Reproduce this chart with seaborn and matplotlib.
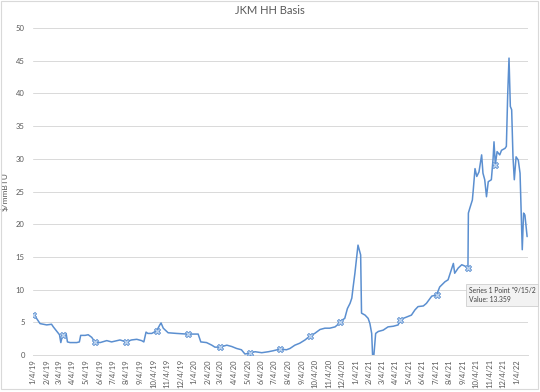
import pandas as pd
import numpy as np
import matplotlib
matplotlib.use('Agg')
import matplotlib.pyplot as plt
from matplotlib.patches import Rectangle
import seaborn as sns

# ---- data ----
dates = [
    '2019-01-04', '2019-01-09', '2019-01-20', '2019-01-27', '2019-02-04', '2019-02-15',
    '2019-02-19', '2019-02-27', '2019-03-05', '2019-03-08', '2019-03-12', '2019-03-20',
    '2019-03-23', '2019-03-29', '2019-04-13', '2019-04-19', '2019-04-22', '2019-05-02',
    '2019-05-09', '2019-05-17', '2019-05-24', '2019-06-05', '2019-06-20', '2019-07-01',
    '2019-07-20', '2019-08-03', '2019-08-15', '2019-08-27', '2019-09-07', '2019-09-12',
    '2019-09-17', '2019-09-21', '2019-09-30', '2019-10-11', '2019-10-19', '2019-10-21',
    '2019-10-26', '2019-11-06', '2019-11-25', '2019-12-18', '2019-12-22', '2020-01-13',
    '2020-01-19', '2020-02-01', '2020-02-13', '2020-02-20', '2020-03-02', '2020-03-18',
    '2020-03-29', '2020-04-09', '2020-04-20', '2020-04-28', '2020-05-09', '2020-05-21',
    '2020-06-05', '2020-06-20', '2020-07-01', '2020-07-16', '2020-07-31', '2020-08-08',
    '2020-08-19', '2020-08-30', '2020-09-11', '2020-09-22', '2020-10-03', '2020-10-15',
    '2020-10-26', '2020-11-06', '2020-11-18', '2020-11-27', '2020-11-29', '2020-12-10',
    '2020-12-16', '2020-12-22', '2020-12-26', '2020-12-29', '2021-01-02', '2021-01-09',
    '2021-01-15', '2021-01-17', '2021-01-25', '2021-02-01', '2021-02-05', '2021-02-09',
    '2021-02-11', '2021-02-14', '2021-02-18', '2021-02-24', '2021-03-07', '2021-03-18',
    '2021-03-30', '2021-04-10', '2021-04-14', '2021-04-29', '2021-05-10', '2021-05-18',
    '2021-05-25', '2021-06-06', '2021-06-13', '2021-06-25', '2021-07-06', '2021-07-13',
    '2021-07-25', '2021-08-01', '2021-08-13', '2021-08-16', '2021-08-24', '2021-09-01',
    '2021-09-08', '2021-09-15', '2021-09-16', '2021-09-19', '2021-09-25', '2021-09-27',
    '2021-10-01', '2021-10-05', '2021-10-10', '2021-10-16', '2021-10-19', '2021-10-23',
    '2021-10-27', '2021-10-31', '2021-11-07', '2021-11-11', '2021-11-13', '2021-11-16',
    '2021-11-20', '2021-11-26', '2021-11-30', '2021-12-08', '2021-12-11', '2021-12-14',
    '2021-12-17', '2021-12-20', '2021-12-23', '2021-12-26', '2021-12-29', '2022-01-02',
    '2022-01-07', '2022-01-11', '2022-01-16', '2022-01-19', '2022-01-22', '2022-01-27',
]
basis = [
    6.1, 5.9, 4.8, 4.7, 4.6, 4.7,
    4.3, 3.6, 3.1, 1.9, 3.1, 3.3,
    2.0, 1.9, 1.9, 2.0, 3.0, 3.0,
    3.1, 2.7, 2.0, 1.9, 2.2, 2.0,
    2.3, 2.0, 2.3, 2.4, 2.2, 2.0,
    3.5, 3.3, 3.3, 3.7, 4.7, 4.9,
    4.1, 3.4, 3.3, 3.2, 3.2, 3.2,
    2.0, 1.9, 1.5, 1.2, 1.2, 1.5,
    1.3, 1.0, 0.8, 0.15, 0.3, 0.5,
    0.35, 0.5, 0.65, 0.9, 0.8, 1.0,
    1.5, 1.8, 2.3, 2.9, 3.3, 3.9,
    4.1, 4.1, 4.3, 4.8, 5.1, 5.6,
    7.1, 7.9, 8.7, 10.4, 12.5, 16.8,
    15.3, 6.4, 6.1, 5.6, 4.8, 3.3,
    0.0, 0.0, 3.3, 3.6, 3.8, 4.3,
    4.4, 4.6, 5.4, 5.8, 6.1, 6.9,
    7.4, 7.5, 7.9, 9.0, 9.2, 10.4,
    11.2, 11.5, 14.0, 12.5, 13.3, 13.8,
    13.6, 13.359, 21.7, 22.4, 23.7, 25.2,
    28.5, 27.3, 28.0, 30.6, 27.8, 26.8,
    24.2, 26.5, 26.8, 30.1, 32.6, 29.1,
    31.1, 30.6, 31.3, 31.6, 31.9, 39.8,
    45.4, 38.0, 37.5, 30.3, 26.8, 30.3,
    29.8, 27.8, 16.1, 21.7, 21.4, 18.1,
]
marker_dates = ['2019-01-04', '2019-03-12', '2019-05-24', '2019-08-03', '2019-10-11',
                '2019-12-22', '2020-03-02', '2020-05-09', '2020-07-16', '2020-09-22',
                '2020-11-29', '2021-04-14', '2021-07-06', '2021-09-15', '2021-11-16']

tick_dates = pd.date_range('2019-01-01', '2022-01-01', freq='MS') + pd.Timedelta(days=3)
tick_labels = [f'{d.month}/{d.day}/{d.year % 100}' for d in tick_dates]

df = pd.DataFrame({'date': pd.to_datetime(dates), 'basis': basis})
marks = df[df['date'].isin(pd.to_datetime(marker_dates))]

sns.set_style('white')
plt.rcParams['font.family'] = ['Lato', 'DejaVu Sans']

blue = '#5b8fd0'
grey = '#595959'

fig = plt.figure(figsize=(5.4, 3.92), dpi=100)
ax = fig.add_axes([33 / 540, 37 / 392, 495 / 540, 327 / 392])

sns.lineplot(data=df, x='date', y='basis', ax=ax, color=blue, linewidth=1.1)
sns.scatterplot(data=marks, x='date', y='basis', ax=ax, marker='X', s=20,
                color='#c5d9f1', edgecolor=blue, linewidth=0.6, zorder=3)

ax.set_ylim(0, 50)
ax.set_yticks(range(0, 51, 5))
ax.set_xlim(pd.Timestamp('2019-01-04'), pd.Timestamp('2022-01-29'))
ax.set_xticks(tick_dates)
ax.set_xticklabels(tick_labels, rotation=90, fontsize=5.5, color=grey)
ax.tick_params(axis='y', labelsize=5.5, labelcolor=grey, length=0, pad=6)
ax.tick_params(axis='x', length=0, pad=3)
ax.grid(axis='y', color='#d9d9d9', linewidth=0.7)
ax.set_axisbelow(True)
for s in ['top', 'right', 'left']:
    ax.spines[s].set_visible(False)
ax.spines['bottom'].set_color('#d9d9d9')
ax.spines['bottom'].set_linewidth(0.7)
ax.set_xlabel('')
ax.set_ylabel(r'\$/mmBTU', fontsize=6, color=grey, labelpad=5)

fig.text(0.5, 1 - 11 / 392, 'JKM HH Basis', ha='center', va='center',
         fontsize=8, color=grey)

# chart area frame
fig.patches.append(Rectangle((0.5 / 540, 3 / 392), 537 / 540, 388 / 392,
                             transform=fig.transFigure, fill=False,
                             edgecolor='#d9d9d9', linewidth=0.8))

# hover tooltip
fig.text(469 / 540, 1 - 295 / 392, 'Series 1 Point "9/15/2\nValue: 13.359',
         ha='left', va='center', fontsize=4.9, color='#404040', linespacing=1.3,
         bbox=dict(boxstyle='square,pad=0.4', facecolor='#f2f2f2',
                   edgecolor='#cfcfcf', linewidth=0.6))

fig.savefig('out.png', dpi=100)
